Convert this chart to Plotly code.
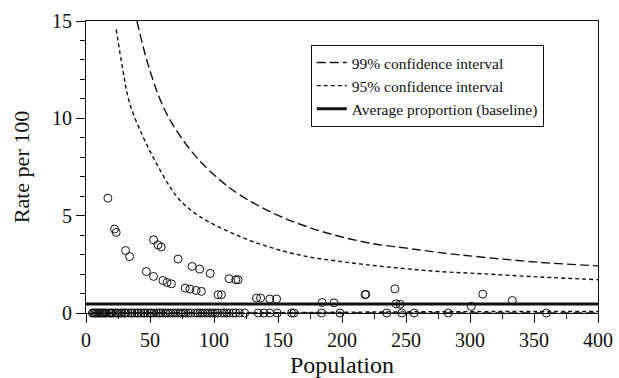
import plotly.graph_objects as go

# ---- data ----
baseline_rate = 0.46

ci99_n = [39.8, 49.7, 62.8, 83.6, 104.5, 120.2, 146.2, 172.4, 198.4, 224.5, 250.6, 276.7, 308, 355, 400]
ci99_upper = [15.0, 12.5, 10.26, 8.21, 6.84, 6.07, 5.13, 4.44, 3.93, 3.56, 3.33, 3.10, 2.88, 2.60, 2.42]

ci95_n = [23.6, 28.8, 34.1, 44.5, 54.9, 65.4, 73.2, 88.8, 120.2, 146.2, 172.4, 198.4, 224.5, 250.6, 276.7, 308, 355, 400]
ci95_upper = [14.57, 12.48, 10.77, 9.06, 7.70, 6.50, 5.81, 4.96, 3.93, 3.33, 2.90, 2.65, 2.44, 2.27, 2.13, 2.02, 1.85, 1.71]

lower_n = [5, 100, 150, 200, 250, 300, 350, 400]
ci95_lower = [0, 0.0, 0.02, 0.04, 0.06, 0.07, 0.08, 0.08]
ci99_lower = [0, 0, 0, 0, 0, 0, 0, 0]

pos_pop = [17.1, 22.3, 23.6, 30.9, 34.1, 47.1, 52.8, 60.1, 63.3, 66.7, 52.8, 56.2, 58.8, 71.9,
           82.9, 88.8, 97, 77.5, 81.2, 86, 90.2, 103.2, 105.8, 111.8, 117, 118.8, 133.2, 136.4,
           143.6, 148.9, 184.5, 193.7, 218, 218.6, 241.3, 242.3, 245.4, 301, 310, 333]
pos_rate = [5.90, 4.31, 4.14, 3.21, 2.90, 2.13, 1.88, 1.67, 1.57, 1.50, 3.76, 3.50, 3.39, 2.77,
            2.39, 2.26, 2.03, 1.28, 1.23, 1.16, 1.11, 0.94, 0.94, 1.76, 1.71, 1.71, 0.77, 0.77,
            0.72, 0.72, 0.54, 0.52, 0.94, 0.96, 1.24, 0.47, 0.45, 0.34, 0.97, 0.64]

zero_pop = [5, 6, 7, 8, 9, 10, 11, 12, 13, 14, 15, 16, 18, 19, 20, 21, 23, 24, 25, 27, 28, 30, 31,
            33, 35, 36, 38, 40, 41, 43, 45, 46, 48, 50, 51, 53, 55, 57, 58, 60, 62, 64, 66, 68,
            70, 72, 74, 76, 78, 80, 82, 85, 87, 89, 91, 93, 95, 97, 99, 101, 103, 106, 108, 110,
            112, 115, 117, 120, 124, 134.5, 139, 143.6, 149.4, 160.6, 162.4, 184, 198.4, 235,
            246.7, 256.4, 283, 359.7]
zero_rate = [0] * len(zero_pop)

x_range = [0, 400]
y_range = [0, 15]

FONT = "'Liberation Serif', 'Times New Roman', Times, 'DejaVu Serif', serif"
BLACK = "#111111"

fig = go.Figure()

fig.add_trace(go.Scatter(x=ci99_n, y=ci99_upper, mode="lines", name="99% confidence interval",
                         legendgroup="99", line=dict(color=BLACK, width=1.4, dash="9px,4px", shape="spline", smoothing=1.0)))
fig.add_trace(go.Scatter(x=ci95_n, y=ci95_upper, mode="lines", name="95% confidence interval",
                         legendgroup="95", line=dict(color=BLACK, width=1.4, dash="4px,3px", shape="spline", smoothing=1.0)))
fig.add_trace(go.Scatter(x=x_range, y=[baseline_rate, baseline_rate], mode="lines",
                         name="Average proportion (baseline)", line=dict(color=BLACK, width=3)))
fig.add_trace(go.Scatter(x=lower_n, y=ci99_lower, mode="lines", showlegend=False, legendgroup="99",
                         line=dict(color=BLACK, width=1.4, dash="9px,4px", shape="spline")))
fig.add_trace(go.Scatter(x=lower_n, y=ci95_lower, mode="lines", showlegend=False, legendgroup="95",
                         line=dict(color=BLACK, width=1.4, dash="4px,3px", shape="spline")))

all_pop = zero_pop + pos_pop
all_rate = zero_rate + pos_rate
fig.add_trace(go.Scatter(x=all_pop, y=all_rate, mode="markers", showlegend=False, cliponaxis=False,
                         marker=dict(symbol="circle-open", size=8, color=BLACK, line=dict(width=1))))

axis_common = dict(showline=True, linecolor=BLACK, linewidth=1, mirror=True, showgrid=False,
                   zeroline=False, ticks="outside", ticklen=9, tickwidth=1, tickcolor=BLACK,
                   automargin=False,
                   tickfont=dict(family=FONT, size=20, color=BLACK))

fig.update_layout(
    width=619, height=378,
    margin=dict(l=86, r=21, t=21, b=65),
    paper_bgcolor="white", plot_bgcolor="white",
    font=dict(family=FONT, color=BLACK),
    xaxis=dict(range=x_range, dtick=50, tick0=0,
               minor=dict(dtick=25, ticks="outside", ticklen=5, tickcolor=BLACK, tickwidth=1),
               title=dict(text="Population", font=dict(family=FONT, size=24, color=BLACK), standoff=18),
               **axis_common),
    yaxis=dict(range=y_range, dtick=5, tick0=0,
               minor=dict(dtick=1, ticks="outside", ticklen=5, tickcolor=BLACK, tickwidth=1),
               title=dict(text="Rate per 100", font=dict(family=FONT, size=22, color=BLACK), standoff=16),
               **axis_common),
    legend=dict(x=0.439, y=0.918, xanchor="left", yanchor="top", bgcolor="white",
                bordercolor=BLACK, borderwidth=1, font=dict(family=FONT, size=15.5, color=BLACK),
                itemwidth=30, tracegroupgap=0),
    showlegend=True,
)

fig.write_html("out.html")
